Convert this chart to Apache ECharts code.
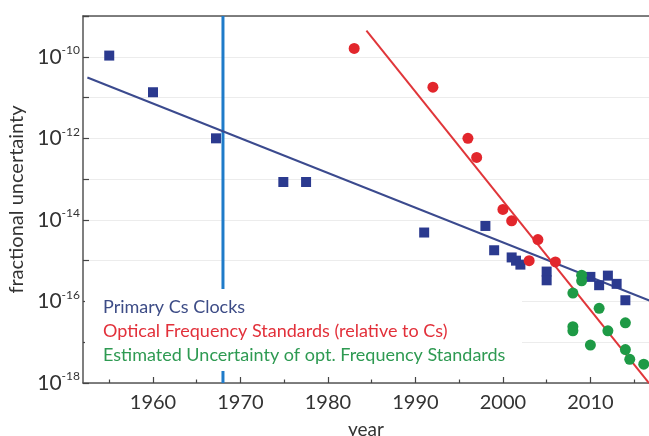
<!DOCTYPE html>
<html>
<head>
<meta charset="utf-8">
<script src="https://cdn.jsdelivr.net/npm/echarts@6/dist/echarts.min.js"></script>
<style>html,body{margin:0;padding:0;background:#fff}#c{width:649px;height:436px}</style>
</head>
<body>
<div id="c"></div>
<script>
// ---- data ----
const csYears  = [1955, 1960, 1967.2, 1974.9, 1977.5, 1991, 1998, 1999, 2001, 2001.5, 2002, 2005, 2005, 2010, 2011, 2012, 2013, 2014];
const csValues = [1.07e-10, 1.35e-11, 1e-12, 8.5e-14, 8.5e-14, 4.9e-15, 7.1e-15, 1.8e-15, 1.2e-15, 1.0e-15, 8e-16, 5.4e-16, 3.3e-16, 4.0e-16, 2.5e-16, 4.3e-16, 2.7e-16, 1.07e-16];

const optYears  = [1983, 1992, 1996, 1997, 2000, 2001, 2003, 2004, 2006];
const optValues = [1.6e-10, 1.8e-11, 1e-12, 3.4e-13, 1.8e-14, 9.5e-15, 1e-15, 3.3e-15, 9.3e-16];

const estYears  = [2008, 2008, 2008, 2009, 2009, 2010, 2011, 2012, 2014, 2014, 2014.5, 2016.1];
const estValues = [1.6e-16, 2.4e-17, 1.9e-17, 4.4e-16, 3.2e-16, 8.5e-18, 6.8e-17, 1.9e-17, 3e-17, 6.6e-18, 3.8e-18, 2.9e-18];

const csFitYears  = [1952.5, 2017];
const csFitValues = [3.1e-11, 1.0e-16];
const optFitYears  = [1984.4, 2016.7];
const optFitValues = [4.4e-10, 1e-18];

const markerYear = 1968;

const xMajorTicks = [1960, 1970, 1980, 1990, 2000, 2010];
const xMinorTicks = [1955, 1965, 1975, 1985, 1995, 2005, 2015];

const legendTexts = [
  'Primary Cs Clocks',
  'Optical Frequency Standards (relative to Cs)',
  'Estimated Uncertainty of opt. Frequency Standards'
];

const X_MIN = 1952, X_MAX = 2016.7, Y_MIN = 1e-18, Y_MAX = 1e-9;

// ---- chart ----
const zip = (a, b) => a.map((v, i) => [v, b[i]]);
const FONT = 'Lato';
const chart = echarts.init(document.getElementById('c'), null, {renderer: 'canvas'});

const axisLineStyle = {color: '#555', width: 1.5};

chart.setOption({
  backgroundColor: '#fff',
  animation: false,
  textStyle: {fontFamily: FONT},
  grid: {left: 83, right: 0, top: 16, bottom: 53, containLabel: false, outerBoundsMode: 'none'},
  xAxis: [
    {
      type: 'value', min: X_MIN, max: X_MAX, position: 'bottom',
      name: 'year', nameLocation: 'middle', nameGap: 37,
      nameTextStyle: {fontSize: 19, color: '#333', fontFamily: FONT},
      axisLine: {show: true, lineStyle: axisLineStyle},
      axisTick: {show: true, inside: true, length: 6, customValues: xMajorTicks, lineStyle: {color: '#444', width: 1.2}},
      axisLabel: {customValues: xMajorTicks, fontSize: 20, color: '#333', margin: 10, fontFamily: FONT, formatter: v => String(v)},
      splitLine: {show: false}
    },
    {
      type: 'value', min: X_MIN, max: X_MAX, position: 'bottom', offset: 0,
      axisLine: {show: false},
      axisTick: {show: true, inside: true, length: 3.5, customValues: xMinorTicks, lineStyle: {color: '#444', width: 1.2}},
      axisLabel: {show: false},
      splitLine: {show: false}
    },
    {
      type: 'value', min: X_MIN, max: X_MAX, position: 'top',
      axisLine: {show: true, lineStyle: axisLineStyle},
      axisTick: {show: false}, axisLabel: {show: false}, splitLine: {show: false}
    }
  ],
  yAxis: {
    type: 'log', logBase: 10, min: Y_MIN, max: Y_MAX, interval: 1,
    name: 'fractional uncertainty', nameLocation: 'middle', nameGap: 50,
    nameTextStyle: {fontSize: 20, color: '#333', fontFamily: FONT},
    axisLine: {show: true, lineStyle: axisLineStyle},
    axisTick: {show: true, inside: true, length: 6, lineStyle: {color: '#444', width: 1.2}},
    axisLabel: {
      margin: 3, color: '#333',
      formatter: v => {
        const e = Math.round(Math.log10(v));
        return (e % 2 === 0) ? '{b|10}{s|' + e + '}' : '';
      },
      rich: {
        b: {fontSize: 21, color: '#333', fontFamily: FONT},
        s: {fontSize: 12, color: '#333', fontFamily: FONT, padding: [0, 0, 13, 0]}
      }
    },
    splitLine: {show: true, lineStyle: {color: '#ececec', width: 1}}
  },
  series: [
    {
      type: 'line', xAxisIndex: 0, data: [[markerYear, Y_MIN], [markerYear, Y_MAX]],
      symbol: 'none', lineStyle: {color: '#1f7bc9', width: 3}, z: 1, silent: true
    },
    {
      type: 'line', xAxisIndex: 0, data: zip(csFitYears, csFitValues),
      symbol: 'none', lineStyle: {color: '#3b4a8e', width: 2}, z: 2
    },
    {
      type: 'line', xAxisIndex: 0, data: zip(optFitYears, optFitValues),
      symbol: 'none', lineStyle: {color: '#e0363a', width: 2}, z: 2
    },
    {
      type: 'scatter', xAxisIndex: 0, data: zip(csYears, csValues),
      symbol: 'rect', symbolSize: 10, itemStyle: {color: '#2b3a8f', opacity: 1}, z: 3
    },
    {
      type: 'scatter', xAxisIndex: 0, data: zip(optYears, optValues),
      symbol: 'circle', symbolSize: 11, itemStyle: {color: '#e2262c', opacity: 1}, z: 4
    },
    {
      type: 'scatter', xAxisIndex: 0, data: zip(estYears, estValues),
      symbol: 'circle', symbolSize: 11, itemStyle: {color: '#1e9a45', opacity: 1}, z: 5
    }
  ],
  graphic: [
    {type: 'rect', shape: {x: 85, y: 289, width: 437, height: 82}, style: {fill: '#fff'}, z: 100, silent: true},
    {type: 'text', x: 103, y: 307, z: 101, style: {text: legendTexts[0], fill: '#3d4c86', font: '18px ' + FONT, textVerticalAlign: 'middle'}},
    {type: 'text', x: 103, y: 331, z: 101, style: {text: legendTexts[1], fill: '#e2303a', font: '18px ' + FONT, textVerticalAlign: 'middle'}},
    {type: 'text', x: 103, y: 355, z: 101, style: {text: legendTexts[2], fill: '#2e9a52', font: '18px ' + FONT, textVerticalAlign: 'middle'}}
  ]
});
</script>
</body>
</html>
